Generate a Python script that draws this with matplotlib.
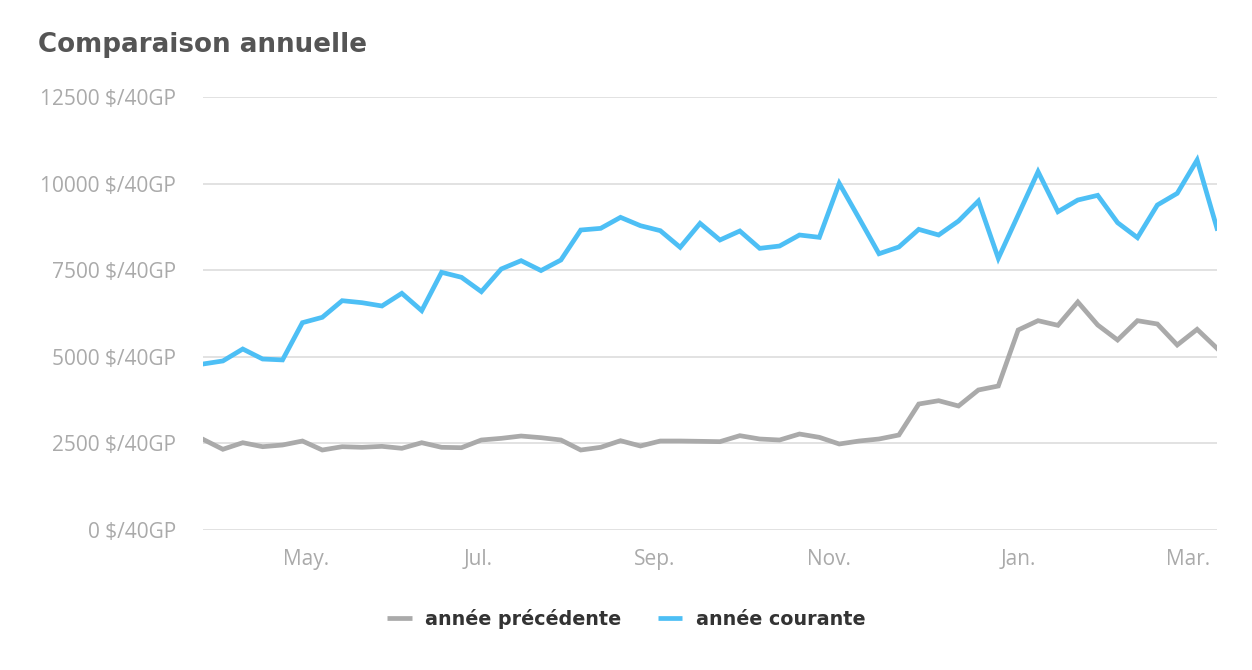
import matplotlib
matplotlib.use("Agg")
import matplotlib.pyplot as plt
from matplotlib.ticker import FuncFormatter

plt.rcParams['text.parse_math'] = False
plt.rcParams['font.family'] = ['Open Sans', 'DejaVu Sans']

# weekly values, $/40GP
annee_precedente = [2618, 2330, 2520, 2405, 2454, 2569, 2309, 2405, 2387, 2415,
                    2358, 2520, 2387, 2376, 2598, 2646, 2713, 2665, 2598, 2309,
                    2387, 2578, 2425, 2569, 2569, 2560, 2550, 2723, 2627, 2598,
                    2771, 2675, 2483, 2569, 2627, 2742, 3637, 3733, 3580, 4042,
                    4157, 5774, 6043, 5909, 6582, 5918, 5485, 6043, 5947, 5341,
                    5793, 5245]
annee_courante = [4792, 4880, 5225, 4936, 4910, 5985, 6140, 6620, 6562, 6467,
                  6833, 6332, 7439, 7295, 6880, 7535, 7775, 7490, 7794, 8660,
                  8708, 9026, 8785, 8641, 8160, 8853, 8372, 8632, 8131, 8198,
                  8516, 8449, 10007, 8997, 7975, 8170, 8679, 8516, 8920, 9497,
                  7843, 9093, 10344, 9189, 9526, 9661, 8872, 8439, 9382, 9719,
                  10681, 8708]
mois = ['May.', 'Jul.', 'Sep.', 'Nov.', 'Jan.', 'Mar.']
mois_pos = [5.18, 13.83, 22.74, 31.49, 41.0, 49.55]
y_ticks = [0, 2500, 5000, 7500, 10000, 12500]

semaines = list(range(len(annee_courante)))

fig = plt.figure(figsize=(12.52, 6.70), dpi=100)
ax = fig.add_axes([203 / 1252, 140 / 670, 1014 / 1252, 433 / 670])

l1, = ax.plot(semaines, annee_precedente, color='#aaaaaa', lw=3.4, solid_joinstyle='miter',
              label='année précédente', zorder=3)
l2, = ax.plot(semaines, annee_courante, color='#4dbff5', lw=3.4, solid_joinstyle='miter',
              label='année courante', zorder=3)

ax.set_xlim(0, len(annee_courante) - 1)
ax.set_ylim(0, 12500)
ax.set_yticks(y_ticks)
ax.yaxis.set_major_formatter(FuncFormatter(lambda v, p: '%d $/40GP' % v))
ax.set_xticks(mois_pos)
ax.set_xticklabels(mois)
ax.grid(axis='y', color='#dddddd', lw=1.2)
ax.set_axisbelow(True)
for s in ax.spines.values():
    s.set_visible(False)
ax.tick_params(axis='both', length=0, labelsize=15, labelcolor='#aaaaaa')
ax.tick_params(axis='y', pad=19.5)
ax.tick_params(axis='x', pad=14)

fig.text(38 / 1252, 1 - 45 / 670, 'Comparaison annuelle', fontsize=18.8, fontweight='bold',
         color='#555555', va='center', ha='left', family='DejaVu Sans')

leg = fig.legend(handles=[l1, l2], loc='center', bbox_to_anchor=(0.5, 1 - 619 / 670),
                 ncol=2, frameon=False, handlelength=1.3, handletextpad=0.7,
                 columnspacing=1.9,
                 prop={'size': 13.8, 'weight': 'bold', 'family': 'DejaVu Sans'})
for t in leg.get_texts():
    t.set_color('#333333')
for h in leg.get_lines():
    h.set_solid_capstyle('butt')

fig.savefig('out.png', dpi=100)
